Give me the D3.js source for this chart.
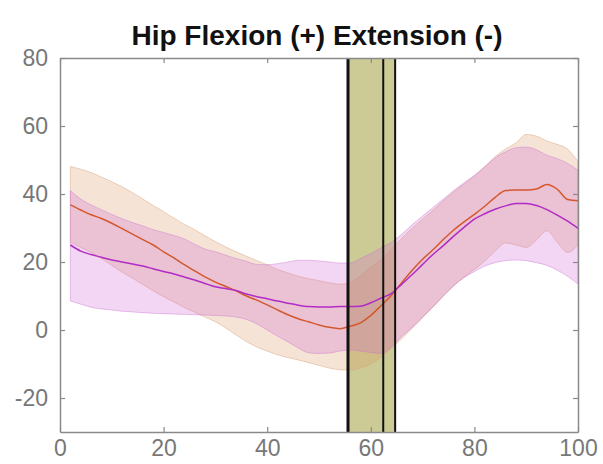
<!DOCTYPE html>
<html>
<head>
<meta charset="utf-8">
<script src="https://cdn.jsdelivr.net/npm/d3@7/dist/d3.min.js"></script>
<style>
  html, body { margin: 0; padding: 0; background: #fff; }
  svg { display: block; }
</style>
</head>
<body>
<svg id="chart" width="603" height="464"></svg>
<script>
// Percent of gait cycle
const pct = [2,4,6,8,10,12,14,16,18,20,22,24,26,28,30,32,34,36,38,40,42,44,46,48,50,
             52,54,56,58,60,62,64,66,68,70,72,74,76,78,80,82,84,86,88,90,92,94,96,98,100];

// Group A (orange): mean and +/- 1 SD envelope, degrees
const meanA = [36.8,35.3,33.9,32.8,31.4,29.8,28.2,26.6,25.0,23.0,21.2,19.2,17.4,15.6,14.1,12.8,11.5,10.0,8.8,7.4,5.9,4.5,3.3,2.4,1.5,
               0.8,0.4,1.1,2.1,4.3,7.2,10.2,14.0,17.6,20.8,23.6,26.6,29.4,31.8,34.0,36.4,39.0,41.0,41.2,41.2,41.5,42.8,41.4,38.4,38.0];
const upperA = [48.1,47.3,46.3,45.0,43.6,42.1,40.4,38.5,36.6,34.8,32.9,31.1,29.5,27.7,26.0,24.4,23.0,21.7,20.4,19.2,17.8,16.8,15.8,15.1,14.5,
                13.9,13.5,14.0,16.0,18.5,20.7,23.8,27.0,30.0,32.6,35.2,38.0,40.6,42.9,45.2,48.0,51.0,53.2,55.0,57.5,57.0,55.6,54.6,53.2,49.5];
const lowerA = [25.8,24.3,22.8,21.0,19.0,17.0,15.2,13.4,11.5,9.8,8.2,6.6,5.2,3.8,2.4,0.6,-1.5,-3.4,-5.0,-6.2,-7.3,-8.1,-8.8,-9.6,-10.4,
                -11.2,-11.7,-11.8,-11.2,-10.0,-8.0,-5.4,-2.5,0.5,3.6,6.8,10.0,13.0,15.6,17.8,20.3,23.2,25.6,25.0,24.3,26.5,29.2,25.8,22.8,25.0];

// Group B (purple): mean and +/- 1 SD envelope, degrees
const meanB = [25.0,23.2,22.2,21.4,20.6,20.0,19.4,18.8,18.0,17.2,16.5,15.6,14.7,13.7,12.7,12.2,11.6,10.6,9.8,9.2,8.5,7.9,7.3,6.9,6.8,
               6.8,6.9,6.9,7.0,8.0,9.4,10.8,13.5,16.3,19.3,22.2,24.8,27.6,30.2,32.6,34.2,35.5,36.5,37.2,37.2,36.6,35.4,33.8,32.0,29.9];
const upperB = [41.0,38.5,36.8,35.4,34.0,32.7,31.6,30.6,29.5,28.7,27.8,26.8,25.2,23.8,23.0,22.0,21.0,20.2,19.3,19.2,19.5,20.0,20.5,20.5,20.3,
                20.0,19.7,19.7,21.0,22.5,24.2,25.8,28.2,31.0,33.5,36.0,38.5,41.0,43.3,45.5,48.0,50.6,52.4,53.6,53.8,53.0,51.4,50.4,49.0,47.0];
const lowerB = [8.5,7.6,6.7,6.2,5.9,5.5,5.3,5.1,4.9,4.8,4.7,4.6,4.5,4.4,4.3,4.1,3.8,3.1,1.8,0.0,-1.8,-3.5,-5.3,-6.7,-6.9,
                -6.8,-6.2,-5.9,-6.2,-6.6,-6.9,-5.0,-1.8,0.8,3.8,6.8,10.0,13.0,15.4,17.2,18.8,19.8,20.4,20.6,20.4,19.8,19.0,17.6,15.8,13.5];

// Event markers (% of cycle): shaded window with its boundary lines
const eventWindow = [55.6, 64.7];
const eventLines = [55.6, 62.4, 64.7];
const eventWidths = [3, 2, 2];

const xTicks = [0, 20, 40, 60, 80, 100];
const yTicks = [-20, 0, 20, 40, 60, 80];
const titleText = "Hip Flexion (+) Extension (-)";

const svg = d3.select("#chart");
const margin = { left: 60, right: 25, top: 58, bottom: 32 };
const W = 603, H = 464;

const x = d3.scaleLinear().domain([0, 100]).range([margin.left, W - margin.right]);
const y = d3.scaleLinear().domain([-30, 80]).range([H - margin.bottom, margin.top]);

const font = "'Liberation Sans', Arial, 'DejaVu Sans', sans-serif";
const plain = d => String(d);   // keeps an ASCII hyphen for negatives

// Title
svg.append("text")
  .attr("x", (x(0) + x(100)) / 2 - 2)
  .attr("y", 45)
  .attr("text-anchor", "middle")
  .attr("font-family", font)
  .attr("font-size", 28)
  .attr("font-weight", "bold")
  .attr("fill", "#111")
  .text(titleText);

const plot = svg.append("g");

// Event window
plot.append("rect")
  .attr("x", x(eventWindow[0]))
  .attr("y", y(80))
  .attr("width", x(eventWindow[1]) - x(eventWindow[0]))
  .attr("height", y(-30) - y(80))
  .attr("fill", "#cccb96");

const rows = pct.map((p, i) => ({ p, mA: meanA[i], uA: upperA[i], lA: lowerA[i], mB: meanB[i], uB: upperB[i], lB: lowerB[i] }));

const areaA = d3.area().x(d => x(d.p)).y0(d => y(d.lA)).y1(d => y(d.uA)).curve(d3.curveMonotoneX);
const areaB = d3.area().x(d => x(d.p)).y0(d => y(d.lB)).y1(d => y(d.uB)).curve(d3.curveMonotoneX);

plot.append("path").datum(rows).attr("d", areaA)
  .attr("fill", "rgb(218,150,98)").attr("fill-opacity", 0.27)
  .attr("stroke", "rgb(214,160,120)").attr("stroke-opacity", 0.45).attr("stroke-width", 1);
plot.append("path").datum(rows).attr("d", areaB)
  .attr("fill", "rgb(212,105,212)").attr("fill-opacity", 0.27)
  .attr("stroke", "rgb(200,110,210)").attr("stroke-opacity", 0.4).attr("stroke-width", 1);

const lineA = d3.line().x(d => x(d.p)).y(d => y(d.mA)).curve(d3.curveMonotoneX);
const lineB = d3.line().x(d => x(d.p)).y(d => y(d.mB)).curve(d3.curveMonotoneX);

plot.append("path").datum(rows).attr("d", lineA)
  .attr("fill", "none").attr("stroke", "#d4582c").attr("stroke-width", 1.5);
plot.append("path").datum(rows).attr("d", lineB)
  .attr("fill", "none").attr("stroke", "#b02cc4").attr("stroke-width", 1.5);

// Event lines
plot.selectAll(".evt").data(eventLines).enter().append("line")
  .attr("x1", d => x(d)).attr("x2", d => x(d))
  .attr("y1", y(80)).attr("y2", y(-30))
  .attr("stroke", "#111")
  .attr("stroke-width", (d, i) => eventWidths[i]);

// Axes: box with inward ticks on all four sides
const axisColor = "#8a8a8a";
const tickLen = 5;
const styleAxis = g => {
  g.select(".domain").attr("stroke", axisColor).attr("stroke-width", 1.5);
  g.selectAll(".tick line").attr("stroke", axisColor).attr("stroke-width", 1.2);
  g.selectAll(".tick text").attr("fill", "#777").attr("font-family", font).attr("font-size", 23);
};

svg.append("g")
  .attr("transform", `translate(0,${y(-30)})`)
  .call(d3.axisBottom(x).tickValues(xTicks).tickSize(-tickLen).tickSizeOuter(0).tickPadding(8).tickFormat(plain))
  .call(styleAxis);
svg.append("g")
  .attr("transform", `translate(0,${y(80)})`)
  .call(d3.axisTop(x).tickValues(xTicks).tickSize(-tickLen).tickSizeOuter(0).tickFormat(""))
  .call(styleAxis);
svg.append("g")
  .attr("transform", `translate(${x(0)},0)`)
  .call(d3.axisLeft(y).tickValues(yTicks).tickSize(-tickLen).tickSizeOuter(0).tickPadding(12).tickFormat(plain))
  .call(styleAxis);
svg.append("g")
  .attr("transform", `translate(${x(100)},0)`)
  .call(d3.axisRight(y).tickValues(yTicks).tickSize(-tickLen).tickSizeOuter(0).tickFormat(""))
  .call(styleAxis);
</script>
</body>
</html>
